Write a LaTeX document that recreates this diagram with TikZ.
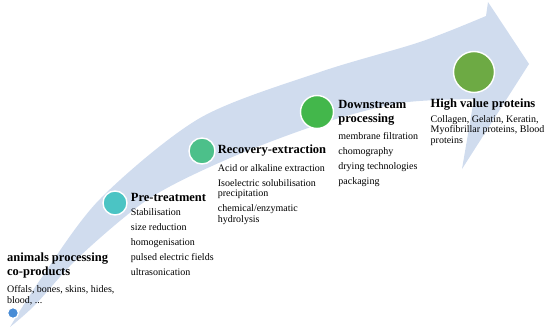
\documentclass[tikz,border=0pt]{standalone}
\usepackage{fontspec}
\setmainfont{Liberation Serif}
\usetikzlibrary{positioning}
\definecolor{bandblue}{RGB}{208,220,238}
\definecolor{dotblue}{RGB}{72,140,214}
\definecolor{preteal}{RGB}{75,196,196}
\definecolor{recgreen}{RGB}{76,192,138}
\definecolor{downgreen}{RGB}{67,183,75}
\definecolor{highgreen}{RGB}{109,170,68}
\tikzset{
  stage/.style={circle, draw=white, line width=1.4pt, inner sep=0pt},
  steptitle/.style={inner sep=0pt, align=left, font=\fontsize{12.5}{14}\selectfont\bfseries},
  stepitems/.style={inner sep=0pt, align=left, font=\fontsize{10}{10.5}\selectfont}
}

\begin{document}
\begin{tikzpicture}[x=1pt, y=-1pt]
    \useasboundingbox (0,0) rectangle (550,330);

    % curved arrow
    \fill[bandblue] plot[smooth] coordinates {(10,327) (40,280) (100,199) (200,118) (320,72) (420,42) (486,16)}
        -- (488,2) -- (529,64) -- (462,169)
        -- plot[smooth] coordinates {(474,99) (400,103) (320,124) (230,158) (150,198) (80,256) (35,305) (10,327)}
        -- cycle;

    % stages
    \node (dot) [stage, fill=dotblue, minimum size=11pt] at (13,313) {};
    \node (prec) [stage, fill=preteal, minimum size=24pt] at (115,203) {};
    \node (recc) [stage, fill=recgreen, minimum size=26pt] at (202,151) {};
    \node (downc) [stage, fill=downgreen, minimum size=33pt] at (317,112) {};
    \node (highc) [stage, fill=highgreen, minimum size=41pt] at (474,72) {};

    % texts
    \node (animtitle) [steptitle, anchor=north west] at (7,253) {animals processing\\co-products};
    \node (animitems) [stepitems, below=7pt of animtitle.south west, anchor=north west] {Offals, bones, skins, hides,\\blood, ...};

    \node (pretitle) [steptitle, right=3pt of prec, yshift=6pt] {Pre-treatment};
    \node (preitems) [stepitems, below=7pt of pretitle.south west, anchor=north west]
        {Stabilisation\\[4.5pt] size reduction\\[4.5pt] homogenisation\\[4.5pt] pulsed electric fields\\[4.5pt] ultrasonication};

    \node (rectitle) [steptitle, right=2pt of recc] {Recovery-extraction};
    \node (recitems) [stepitems, below=7pt of rectitle.south west, anchor=north west]
        {Acid or alkaline extraction\\[4.5pt] Isoelectric solubilisation\\ precipitation\\[4.5pt] chemical/enzymatic\\ hydrolysis};

    \node (downtitle) [steptitle, right=4pt of downc, yshift=-1pt] {Downstream\\processing};
    \node (downitems) [stepitems, below=7pt of downtitle.south west, anchor=north west]
        {membrane filtration\\[4.5pt] chomography\\[4.5pt] drying technologies\\[4.5pt] packaging};

    \node (hightitle) [steptitle, below=5pt of highc, xshift=9pt] {High value proteins};
    \node (highitems) [stepitems, below=5pt of hightitle.south west, anchor=north west]
        {Collagen, Gelatin, Keratin,\\ Myofibrillar proteins, Blood\\ proteins};
\end{tikzpicture}
\end{document}
